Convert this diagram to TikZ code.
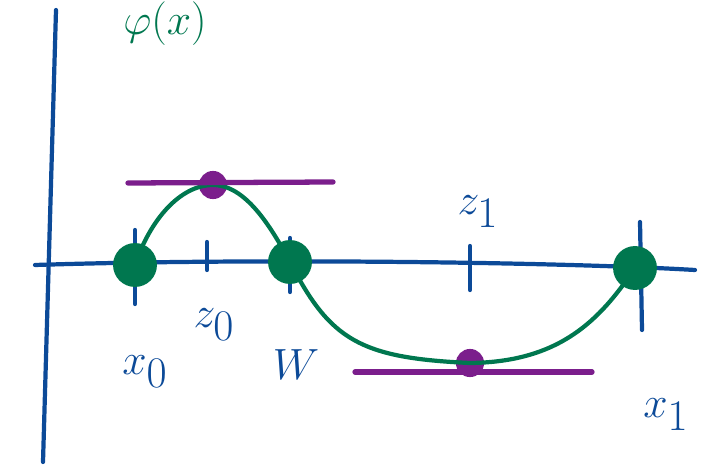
\documentclass[tikz,border=0pt]{standalone}
\usepackage{amsmath}
\usetikzlibrary{positioning}

\definecolor{axisblue}{HTML}{0C4A98}
\definecolor{curvegreen}{HTML}{00774F}
\definecolor{tanpurple}{HTML}{7B1E8C}

\begin{document}
\begin{tikzpicture}[
    x=0.02cm,
    y=-0.02cm,
    line join=round,
    line cap=round,
    axis/.style={draw=axisblue, line width=2.4pt},
    tick/.style={draw=axisblue, line width=2.4pt},
    graph/.style={draw=curvegreen, line width=2.4pt},
    tangent/.style={draw=tanpurple, line width=3pt},
    root/.style={circle, fill=curvegreen, inner sep=0pt, minimum size=25pt},
    crit/.style={circle, fill=tanpurple, inner sep=0pt, minimum size=16pt},
    lbl/.style={text=axisblue, font=\fontsize{40}{42}\selectfont}
]
\useasboundingbox (0,0) rectangle (712,469);

% =========================
% Axes
% =========================
\coordinate (ytop) at (56,10);
\coordinate (ybot) at (43,462);
\coordinate (xleft) at (35,265);
\coordinate (xright) at (695,270);

\draw[axis] (ybot) -- (ytop);
\draw[axis] (xleft) .. controls (250,258) and (560,262) .. (xright);

% =========================
% Ticks
% =========================
\draw[tick] (135,230) -- (135,304);
\draw[tick] (207,242) -- (207,270);
\draw[tick] (290,238) -- (290,292);
\draw[tick] (470,246) -- (470,290);
\draw[tick] (640,222) -- (642,330);

% =========================
% Nodes
% =========================
\node[root] (x0) at (135,265) {};
\node[root] (w) at (290,262) {};
\node[root] (x1) at (635,268) {};
\node[crit] (z0) at (213,185) {};
\node[crit] (z1) at (470,363) {};

\coordinate (t0l) at (128,183);
\coordinate (t0r) at (333,182);
\coordinate (t1l) at (355,372);
\coordinate (t1r) at (592,372);

% =========================
% Curve and tangents
% =========================
\draw[graph] (x0.center) .. controls (150,220) and (180,185) .. (z0.center)
    .. controls (245,185) and (270,225) .. (w.center)
    .. controls (330,340) and (360,358) .. (z1.center)
    .. controls (560,362) and (600,320) .. (x1.center);

\draw[tangent] (t0l) -- (t0r);
\draw[tangent] (t1l) -- (t1r);

% =========================
% Labels
% =========================
\node[lbl] (lx0) at (145,372) {$x_0$};
\node[lbl] (lz0) at (214,325) {$z_0$};
\node[lbl] (lw) at (296,365) {$W$};
\node[lbl] (lz1) at (478,212) {$z_1$};
\node[lbl] (lx1) at (666,415) {$x_1$};
\node[lbl, text=curvegreen] (lphi) at (165,24) {$\varphi(x)$};

\end{tikzpicture}
\end{document}
